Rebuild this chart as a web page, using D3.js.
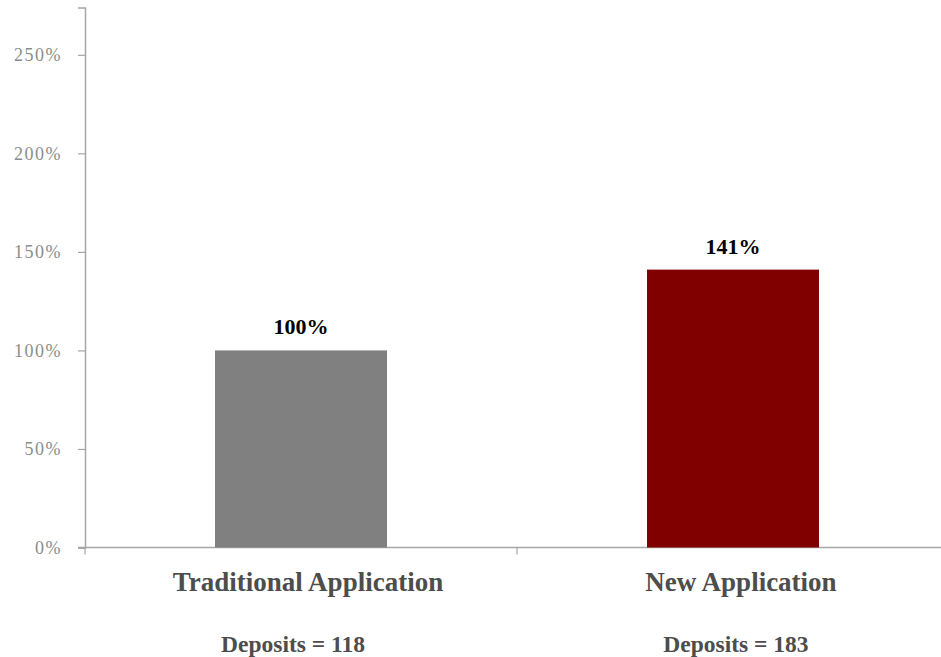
<!DOCTYPE html>
<html>
<head>
<meta charset="utf-8">
<script src="https://cdn.jsdelivr.net/npm/d3@7"></script>
<style>
  html, body { margin: 0; padding: 0; background: #fff; }
  svg { display: block; }
</style>
</head>
<body>
<svg id="chart" width="941" height="657"></svg>
<script>
// Relative deposit rate by application type
const categories = ["Traditional Application", "New Application"];
const values = [100, 141];
const deposits = [118, 183];
const barColors = ["#808080", "#800000"];
const yTicks = [0, 50, 100, 150, 200, 250];

const svg = d3.select("#chart");
const plotLeft = 85, plotRight = 949, plotTop = 7.5, plotBottom = 547.5;
// horizontal nudges of the text boxes under each category
const catShift = [7, 8];
const depShift = [-8, 3];

const x = d3.scaleBand().domain(categories).range([plotLeft, plotRight]).paddingInner(0).paddingOuter(0);
const y = d3.scaleLinear().domain([0, 274]).range([plotBottom, plotTop]);
const barW = 172;
const cx = i => x(categories[i]) + x.bandwidth() / 2;

// y axis
const yAxis = svg.append("g")
  .attr("transform", `translate(${plotLeft},0)`)
  .call(d3.axisLeft(y).tickValues(yTicks).tickFormat(d => d + "%").tickSize(7).tickPadding(16));
yAxis.select(".domain").attr("stroke", "#a6a6a6").attr("stroke-width", 1.5);
yAxis.selectAll(".tick line").attr("stroke", "#a6a6a6").attr("stroke-width", 1.2);
yAxis.selectAll(".tick text")
  .attr("fill", "#8c8c8c")
  .style("font-family", "'Liberation Serif', 'Times New Roman', serif")
  .style("font-size", "18px")
  .style("letter-spacing", "1.5px");

// x axis line and category separators
svg.append("line")
  .attr("x1", plotLeft - 7).attr("x2", 941)
  .attr("y1", plotBottom).attr("y2", plotBottom)
  .attr("stroke", "#a6a6a6").attr("stroke-width", 1.5);
const edges = [x(categories[0]), x(categories[1]), x(categories[1]) + x.bandwidth()];
svg.selectAll(".xtick").data(edges).join("line")
  .attr("class", "xtick")
  .attr("x1", d => d).attr("x2", d => d)
  .attr("y1", plotBottom).attr("y2", plotBottom + 7)
  .attr("stroke", "#a6a6a6").attr("stroke-width", 1.2);

// bars
svg.selectAll(".bar").data(values).join("rect")
  .attr("class", "bar")
  .attr("x", (d, i) => cx(i) - barW / 2)
  .attr("width", barW)
  .attr("y", d => y(d))
  .attr("height", d => y(0) - y(d))
  .attr("fill", (d, i) => barColors[i]);

// value labels
svg.selectAll(".val").data(values).join("text")
  .attr("class", "val")
  .attr("x", (d, i) => cx(i))
  .attr("y", d => y(d) - 16)
  .attr("text-anchor", "middle")
  .attr("fill", "#000")
  .style("font-family", "'Liberation Serif', 'Times New Roman', serif")
  .style("font-weight", "bold")
  .style("font-size", "22px")
  .text(d => d + "%");

// category labels
svg.selectAll(".cat").data(categories).join("text")
  .attr("class", "cat")
  .attr("x", (d, i) => cx(i) + catShift[i])
  .attr("y", 591)
  .attr("text-anchor", "middle")
  .attr("fill", "#4d4d4d")
  .style("font-family", "'Liberation Serif', 'Times New Roman', serif")
  .style("font-weight", "bold")
  .style("font-size", "27px")
  .text(d => d);

// deposit counts
svg.selectAll(".dep").data(deposits).join("text")
  .attr("class", "dep")
  .attr("x", (d, i) => cx(i) + depShift[i])
  .attr("y", 652)
  .attr("text-anchor", "middle")
  .attr("fill", "#4d4d4d")
  .style("font-family", "'Liberation Serif', 'Times New Roman', serif")
  .style("font-weight", "bold")
  .style("font-size", "23.5px")
  .text(d => "Deposits = " + d);
</script>
</body>
</html>
